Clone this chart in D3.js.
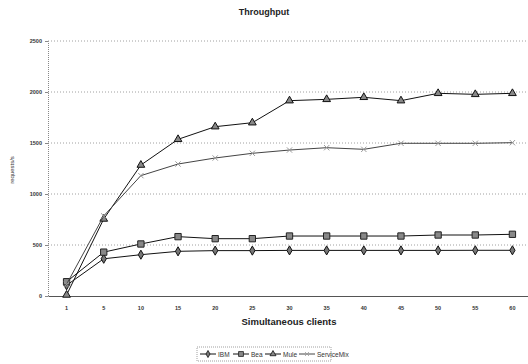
<!DOCTYPE html>
<html><head><meta charset="utf-8">
<script src="https://cdn.jsdelivr.net/npm/d3@7"></script>
<style>body{margin:0;background:#fff}svg{display:block}</style>
</head><body>
<svg id="c" width="528" height="364"></svg>
<script>
const categories = ["1","5","10","15","20","25","30","35","40","45","50","55","60"];
const seriesNames = ["IBM","Bea","Mule","ServiceMix"];
const ibm = [105, 365, 405, 438, 445, 445, 447, 447, 447, 447, 447, 448, 448];
const bea = [140, 430, 510, 582, 562, 562, 588, 588, 588, 588, 598, 598, 605];
const mule = [10, 755, 1284, 1536, 1660, 1699, 1915, 1928, 1948, 1915, 1987, 1977, 1987];
const serviceMix = [115, 785, 1180, 1294, 1353, 1399, 1431, 1454, 1438, 1497, 1497, 1497, 1503];
const yTicks = [0, 500, 1000, 1500, 2000, 2500];

(function () {
const svg = d3.select("#c");
const mL = 48, mR = 531, mT = 41, mB = 296;
const x = d3.scaleBand().domain(categories).range([mL, mR]);
const y = d3.scaleLinear().domain([0, 2500]).range([mB, mT]);
const font = "Liberation Sans, Arial, sans-serif";

svg.append("text").attr("x", 264).attr("y", 15).attr("text-anchor", "middle")
  .attr("font-family", font).attr("font-weight", "bold").attr("font-size", 9).attr("fill", "#222").text("Throughput");

svg.append("g").selectAll("line").data(yTicks.slice(1)).join("line")
  .attr("x1", mL).attr("x2", mR).attr("y1", d => y(d)).attr("y2", d => y(d))
  .attr("stroke", "#888").attr("stroke-width", 0.8).attr("stroke-dasharray", "1,2");

const ya = svg.append("g").attr("transform", `translate(${mL},0)`)
  .call(d3.axisLeft(y).tickValues(yTicks).tickSize(3).tickFormat(d3.format("d")));
ya.select(".domain").attr("stroke", "#888").attr("stroke-dasharray", "1,1");
ya.selectAll(".tick line").attr("stroke", "#888");
ya.selectAll("text").attr("font-family", font).attr("font-size", 5.5).attr("font-weight", "bold").attr("fill", "#333");

const xa = svg.append("g").attr("transform", `translate(0,${mB})`)
  .call(d3.axisBottom(x).tickSize(0).tickPadding(10));
xa.select(".domain").attr("stroke", "#555").attr("stroke-width", 1);
xa.selectAll("text").attr("font-family", font).attr("font-size", 5.5).attr("font-weight", "bold").attr("fill", "#333");

svg.append("text").attr("x", 289).attr("y", 325).attr("text-anchor", "middle")
  .attr("font-family", font).attr("font-weight", "bold").attr("font-size", 9.5).attr("fill", "#222").text("Simultaneous clients");
svg.append("text").attr("transform", "translate(14,170) rotate(-90)").attr("text-anchor", "middle")
  .attr("font-family", font).attr("font-size", 6).attr("fill", "#333").text("requests/s");

const cx = c => x(c) + x.bandwidth() / 2;
const series = [
  {name: seriesNames[0], values: ibm, line: "#111", sym: d3.symbolDiamond, size: 24, fill: "#777", stroke: "#111"},
  {name: seriesNames[1], values: bea, line: "#111", sym: d3.symbolSquare, size: 40, fill: "#888", stroke: "#222"},
  {name: seriesNames[2], values: mule, line: "#111", sym: d3.symbolTriangle, size: 26, fill: "#888", stroke: "#111"},
  {name: seriesNames[3], values: serviceMix, line: "#444", sym: d3.symbolX, size: 20, fill: "none", stroke: "#999"}
];
const lineGen = d3.line().x((d, i) => cx(categories[i])).y(d => y(d));
series.forEach(s => {
  svg.append("path").datum(s.values).attr("d", lineGen).attr("fill", "none")
    .attr("stroke", s.line).attr("stroke-width", 1);
  svg.append("g").selectAll("path").data(s.values).join("path")
    .attr("transform", (d, i) => `translate(${cx(categories[i])},${y(d)})`)
    .attr("d", d3.symbol().type(s.sym).size(s.size))
    .attr("fill", s.fill).attr("stroke", s.stroke).attr("stroke-width", 1);
});

const lg = svg.append("g");
lg.append("rect").attr("x", 197).attr("y", 347).attr("width", 134).attr("height", 14)
  .attr("fill", "#fff").attr("stroke", "#888").attr("stroke-width", 0.8).attr("stroke-dasharray", "1,1");
const lx = [200, 233, 265, 299];
series.forEach((s, i) => {
  const g = lg.append("g").attr("transform", `translate(${lx[i]},354)`);
  g.append("line").attr("x1", 0).attr("x2", 16).attr("stroke", s.line).attr("stroke-width", 1);
  g.append("path").attr("transform", "translate(8,0)").attr("d", d3.symbol().type(s.sym).size(s.size * 0.6))
    .attr("fill", s.fill).attr("stroke", s.stroke).attr("stroke-width", 0.8);
  g.append("text").attr("x", 18).attr("y", 2.5).attr("font-family", font).attr("font-size", 6.5)
    .attr("fill", "#333").text(s.name);
});
})();
</script>
</body></html>
